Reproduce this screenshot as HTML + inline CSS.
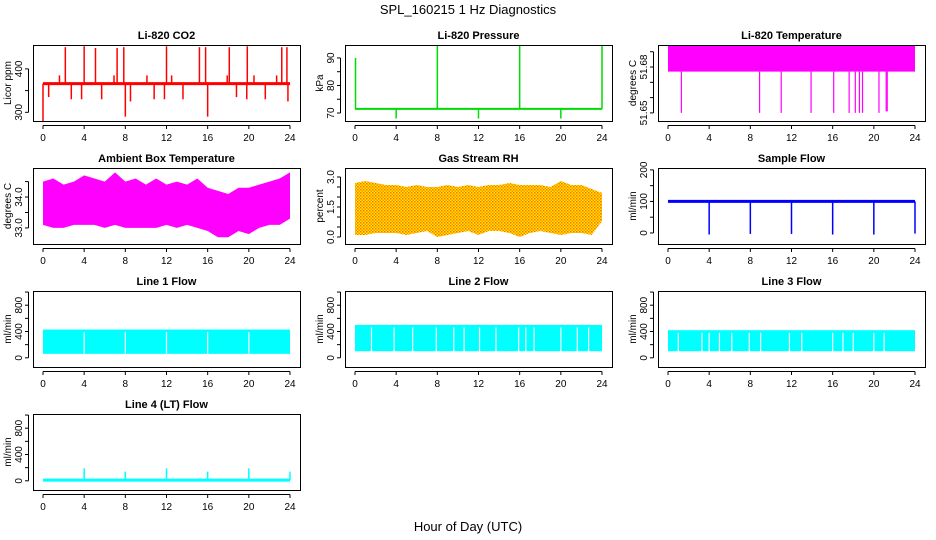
<!DOCTYPE html>
<html><head><meta charset="utf-8"><style>
html,body{margin:0;padding:0;background:#fff;}
svg{display:block;font-family:"Liberation Sans",sans-serif;}
</style></head><body>
<svg id="c" width="936" height="540" viewBox="0 0 936 540" xmlns="http://www.w3.org/2000/svg">
<defs>
<pattern id="rhpat" width="3" height="3" patternUnits="userSpaceOnUse">
<rect width="3" height="3" fill="#ffee00"/><rect x="0" y="0" width="1.5" height="1.5" fill="#ff6a00"/><rect x="1.5" y="1.5" width="1.5" height="1.5" fill="#ff8c00"/>
</pattern>
</defs>
<text x="468" y="14" text-anchor="middle" font-size="13">SPL_160215  1 Hz Diagnostics</text>
<text x="468" y="531" text-anchor="middle" font-size="13">Hour of Day (UTC)</text>
</svg>
<script>
// ---- data ----
const xTicks = [0,4,8,12,16,20,24];
const co2Base = 366;
const co2SpikeHours = [0.0,0.55,1.6,2.17,2.75,3.75,4.0,5.1,5.7,6.9,7.2,7.85,8.0,8.5,10.1,10.8,11.8,12.0,12.5,13.6,15.2,15.8,16.0,17.9,18.1,18.8,19.8,19.85,20.5,21.6,22.7,23.2,23.7,23.8];
const co2SpikeValues = [280,335,385,450,330,330,452,448,330,385,448,450,290,325,385,330,330,452,385,330,450,450,290,385,450,335,330,452,385,330,385,450,450,325];
const presBase = 71.5;
const presSpikeHours = [0.05,4,8,12,16,20,24];
const presSpikeValues = [90,68,94.5,68,94.5,68,94.5];
const tempTop = 51.694;
const tempBandLow = 51.677;
const tempDropHours = [1.3,8.9,11.0,13.9,16.1,17.6,18.2,18.6,18.9,20.5,21.2,21.3];
const tempDropValues = [51.65,51.65,51.65,51.65,51.65,51.65,51.65,51.65,51.65,51.65,51.651,51.651];
const hours = [0,1,2,3,4,5,6,7,8,9,10,11,12,13,14,15,16,17,18,19,20,21,22,23,24];
const ambUpper = [34.5,34.6,34.4,34.5,34.7,34.6,34.5,34.8,34.5,34.6,34.4,34.6,34.4,34.5,34.4,34.6,34.3,34.2,34.1,34.3,34.3,34.4,34.5,34.6,34.8];
const ambLower = [33.1,33.0,33.0,33.1,33.1,33.1,33.0,33.1,33.0,33.0,33.0,33.0,33.1,33.0,33.1,33.0,32.9,32.7,32.7,32.9,32.8,33.0,33.1,33.1,33.3];
const rhUpper = [2.7,2.8,2.7,2.6,2.6,2.5,2.6,2.5,2.5,2.6,2.5,2.6,2.5,2.6,2.6,2.7,2.6,2.6,2.6,2.5,2.8,2.6,2.6,2.4,2.2];
const rhLower = [0.1,0.1,0.2,0.2,0.2,0.1,0.2,0.3,0.0,0.1,0.2,0.3,0.1,0.3,0.3,0.2,0.0,0.2,0.3,0.2,0.1,0.2,0.2,0.1,0.8];
const flowBase = 100;
const flowDipHours = [4,8,12,16,20,24];
const flowDipValues = [-5,-3,-3,-5,-5,-2];
const l1Upper = 430, l1Lower = 60;
const l1GapHours = [4,8,12,16,20];
const l2Upper = 500, l2Lower = 100;
const l2GapHours = [1.6,3.8,5.6,7.9,9.6,10.6,12.1,13.7,15.9,16.6,17.4,20.0,21.6,22.7];
const l3Upper = 420, l3Lower = 100;
const l3GapHours = [1.0,3.3,4.0,5.0,6.2,7.9,9.0,11.8,13.0,16.0,17.0,18.0,20.0,21.0];
const l4Base = 10;
const l4SpikeHours = [4,8,12,16,20,24];
const l4SpikeValues = [190,140,190,140,190,140];

// ---- drawing ----
const svg = document.getElementById('c');
const NS = 'http://www.w3.org/2000/svg';
function mk(tag, attrs, parent){ const e=document.createElementNS(NS,tag); for(const k in attrs) e.setAttribute(k,attrs[k]); (parent||svg).appendChild(e); return e; }
const colL=[33,345,658], rowT=[45,168,291,414], W=267, H=76;

function panel(col,row,title,ylab,ymin,ymax,yticks,ylabels,name){
  const L=colL[col], T=rowT[row], R=L+W, B=T+H;
  const g = mk('g',{});
  
  
  const xs = h => L+10 + (h/24)*(W-20);
  const ys = v => B - (v-ymin)/(ymax-ymin)*H;
  const t = mk('text',{x:(L+R)/2,y:T-6,'text-anchor':'middle','font-size':'11','font-weight':'bold'},g);
  t.textContent = title;
  
  
  const yl = mk('text',{x:0,y:0,'text-anchor':'middle','font-size':'10',transform:`translate(${L-22},${(T+B)/2}) rotate(-90)`},g);
  yl.textContent = ylab;
  
  
  const plot = mk('g',{},g);
  
  
  // axes
  const ax = mk('g',{stroke:'#000','stroke-width':'1',fill:'none'},g);
  
  
  mk('rect',{x:L+0.5,y:T+0.5,width:W,height:H},ax);
  mk('line',{x1:xs(0),x2:xs(24),y1:B+4.5,y2:B+4.5},ax);
  xTicks.forEach(h=>{
    mk('line',{x1:xs(h),x2:xs(h),y1:B+4.5,y2:B+8},ax);
    const tl = mk('text',{x:xs(h),y:B+20,'text-anchor':'middle','font-size':'10',fill:'#000',stroke:'none'},g);
    tl.textContent = h;
    
    
  });
  mk('line',{x1:L-4.5,x2:L-4.5,y1:ys(yticks[0]),y2:ys(yticks[yticks.length-1])},ax);
  yticks.forEach((v,i)=>{
    mk('line',{x1:L-8,x2:L-4.5,y1:ys(v),y2:ys(v)},ax);
    if(ylabels[i]!==''){
      const tl = mk('text',{x:0,y:0,'text-anchor':'middle','font-size':'10',fill:'#000',stroke:'none',transform:`translate(${L-11},${ys(v)}) rotate(-90)`},g);
      tl.textContent = ylabels[i];
      
      
    }
  });
  return {xs,ys,plot,L,T,R,B};
}
function vline(p,h,v1,v2,col,w){ return mk('line',{x1:p.xs(h),x2:p.xs(h),y1:p.ys(v1),y2:p.ys(v2),stroke:col,'stroke-width':w||1.5},p.plot); }
function envelope(p,hs,up,lo,fill){
  let d='M'+hs.map((h,i)=>p.xs(h)+','+p.ys(up[i])).join('L');
  for(let i=hs.length-1;i>=0;i--) d+='L'+p.xs(hs[i])+','+p.ys(lo[i]);
  return mk('path',{d:d+'Z',fill:fill},p.plot);
}

// CO2
let p = panel(0,0,'Li-820 CO2','Licor ppm',280,455,[300,350,400],['300','','400'],'co2');
co2SpikeHours.forEach((h,i)=>vline(p,h,co2Base,co2SpikeValues[i],'#ff0000',1.5));
mk('line',{x1:p.xs(0),x2:p.xs(24),y1:p.ys(co2Base),y2:p.ys(co2Base),stroke:'#ff0000','stroke-width':3},p.plot);
// Pressure
p = panel(1,0,'Li-820 Pressure','kPa',67.1,94.7,[70,75,80,85,90],['70','','80','','90'],'pressure');
mk('line',{x1:p.xs(0),x2:p.xs(24),y1:p.ys(presBase),y2:p.ys(presBase),stroke:'#00dd00','stroke-width':2},p.plot);
presSpikeHours.forEach((h,i)=>{ vline(p,h,presBase,presSpikeValues[i],'#00dd00',1.5); });
// Li-820 temperature
p = panel(2,0,'Li-820 Temperature','degrees C',51.6447,51.6944,[51.65,51.66,51.67,51.68,51.69],['51.65','','','51.68',''],'li820-temp');
mk('rect',{x:p.xs(0),y:p.ys(tempTop),width:p.xs(24)-p.xs(0),height:p.ys(tempBandLow)-p.ys(tempTop),fill:'#ff00ff'},p.plot);
tempDropHours.forEach((h,i)=>vline(p,h,tempBandLow,tempDropValues[i],'#ff00ff',1.2));
// Ambient
p = panel(0,1,'Ambient Box Temperature','degrees C',32.48,34.94,[33,33.5,34,34.5],['33.0','','34.0',''],'ambient-temp');
envelope(p,hours,ambUpper,ambLower,'#ff00ff');
// RH
p = panel(1,1,'Gas Stream RH','percent',-0.35,3.45,[0,0.5,1,1.5,2,2.5,3],['0.0','','','1.5','','','3.0'],'rh');
envelope(p,hours,rhUpper,rhLower,'url(#rhpat)');
// Sample flow
p = panel(2,1,'Sample Flow','ml/min',-35,206,[0,50,100,150,200],['0','','100','','200'],'sample-flow');
mk('line',{x1:p.xs(0),x2:p.xs(24),y1:p.ys(flowBase),y2:p.ys(flowBase),stroke:'#0000ff','stroke-width':3},p.plot);
flowDipHours.forEach((h,i)=>vline(p,h,flowBase,flowDipValues[i],'#0000ff',1.5));
// Line flows
function bandFlow(col,row,title,name,up,lo,gaps){
  const q = panel(col,row,title,'ml/min',-140,1016,[0,200,400,600,800,1000],['0','','400','','800',''],name);
  mk('rect',{x:q.xs(0),y:q.ys(up),width:q.xs(24)-q.xs(0),height:q.ys(lo)-q.ys(up),fill:'#00ffff'},q.plot);
  gaps.forEach(h=>vline(q,h,lo,up-40,'#ffffff',1.2));
  return q;
}
bandFlow(0,2,'Line 1 Flow','line1-flow',l1Upper,l1Lower,l1GapHours);
bandFlow(1,2,'Line 2 Flow','line2-flow',l2Upper,l2Lower,l2GapHours);
bandFlow(2,2,'Line 3 Flow','line3-flow',l3Upper,l3Lower,l3GapHours);
p = panel(0,3,'Line 4 (LT) Flow','ml/min',-140,1016,[0,200,400,600,800,1000],['0','','400','','800',''],'line4-flow');
mk('line',{x1:p.xs(0),x2:p.xs(24),y1:p.ys(l4Base),y2:p.ys(l4Base),stroke:'#00ffff','stroke-width':3},p.plot);
l4SpikeHours.forEach((h,i)=>vline(p,h,l4Base,l4SpikeValues[i],'#00ffff',1.5));
</script>
</body></html>
